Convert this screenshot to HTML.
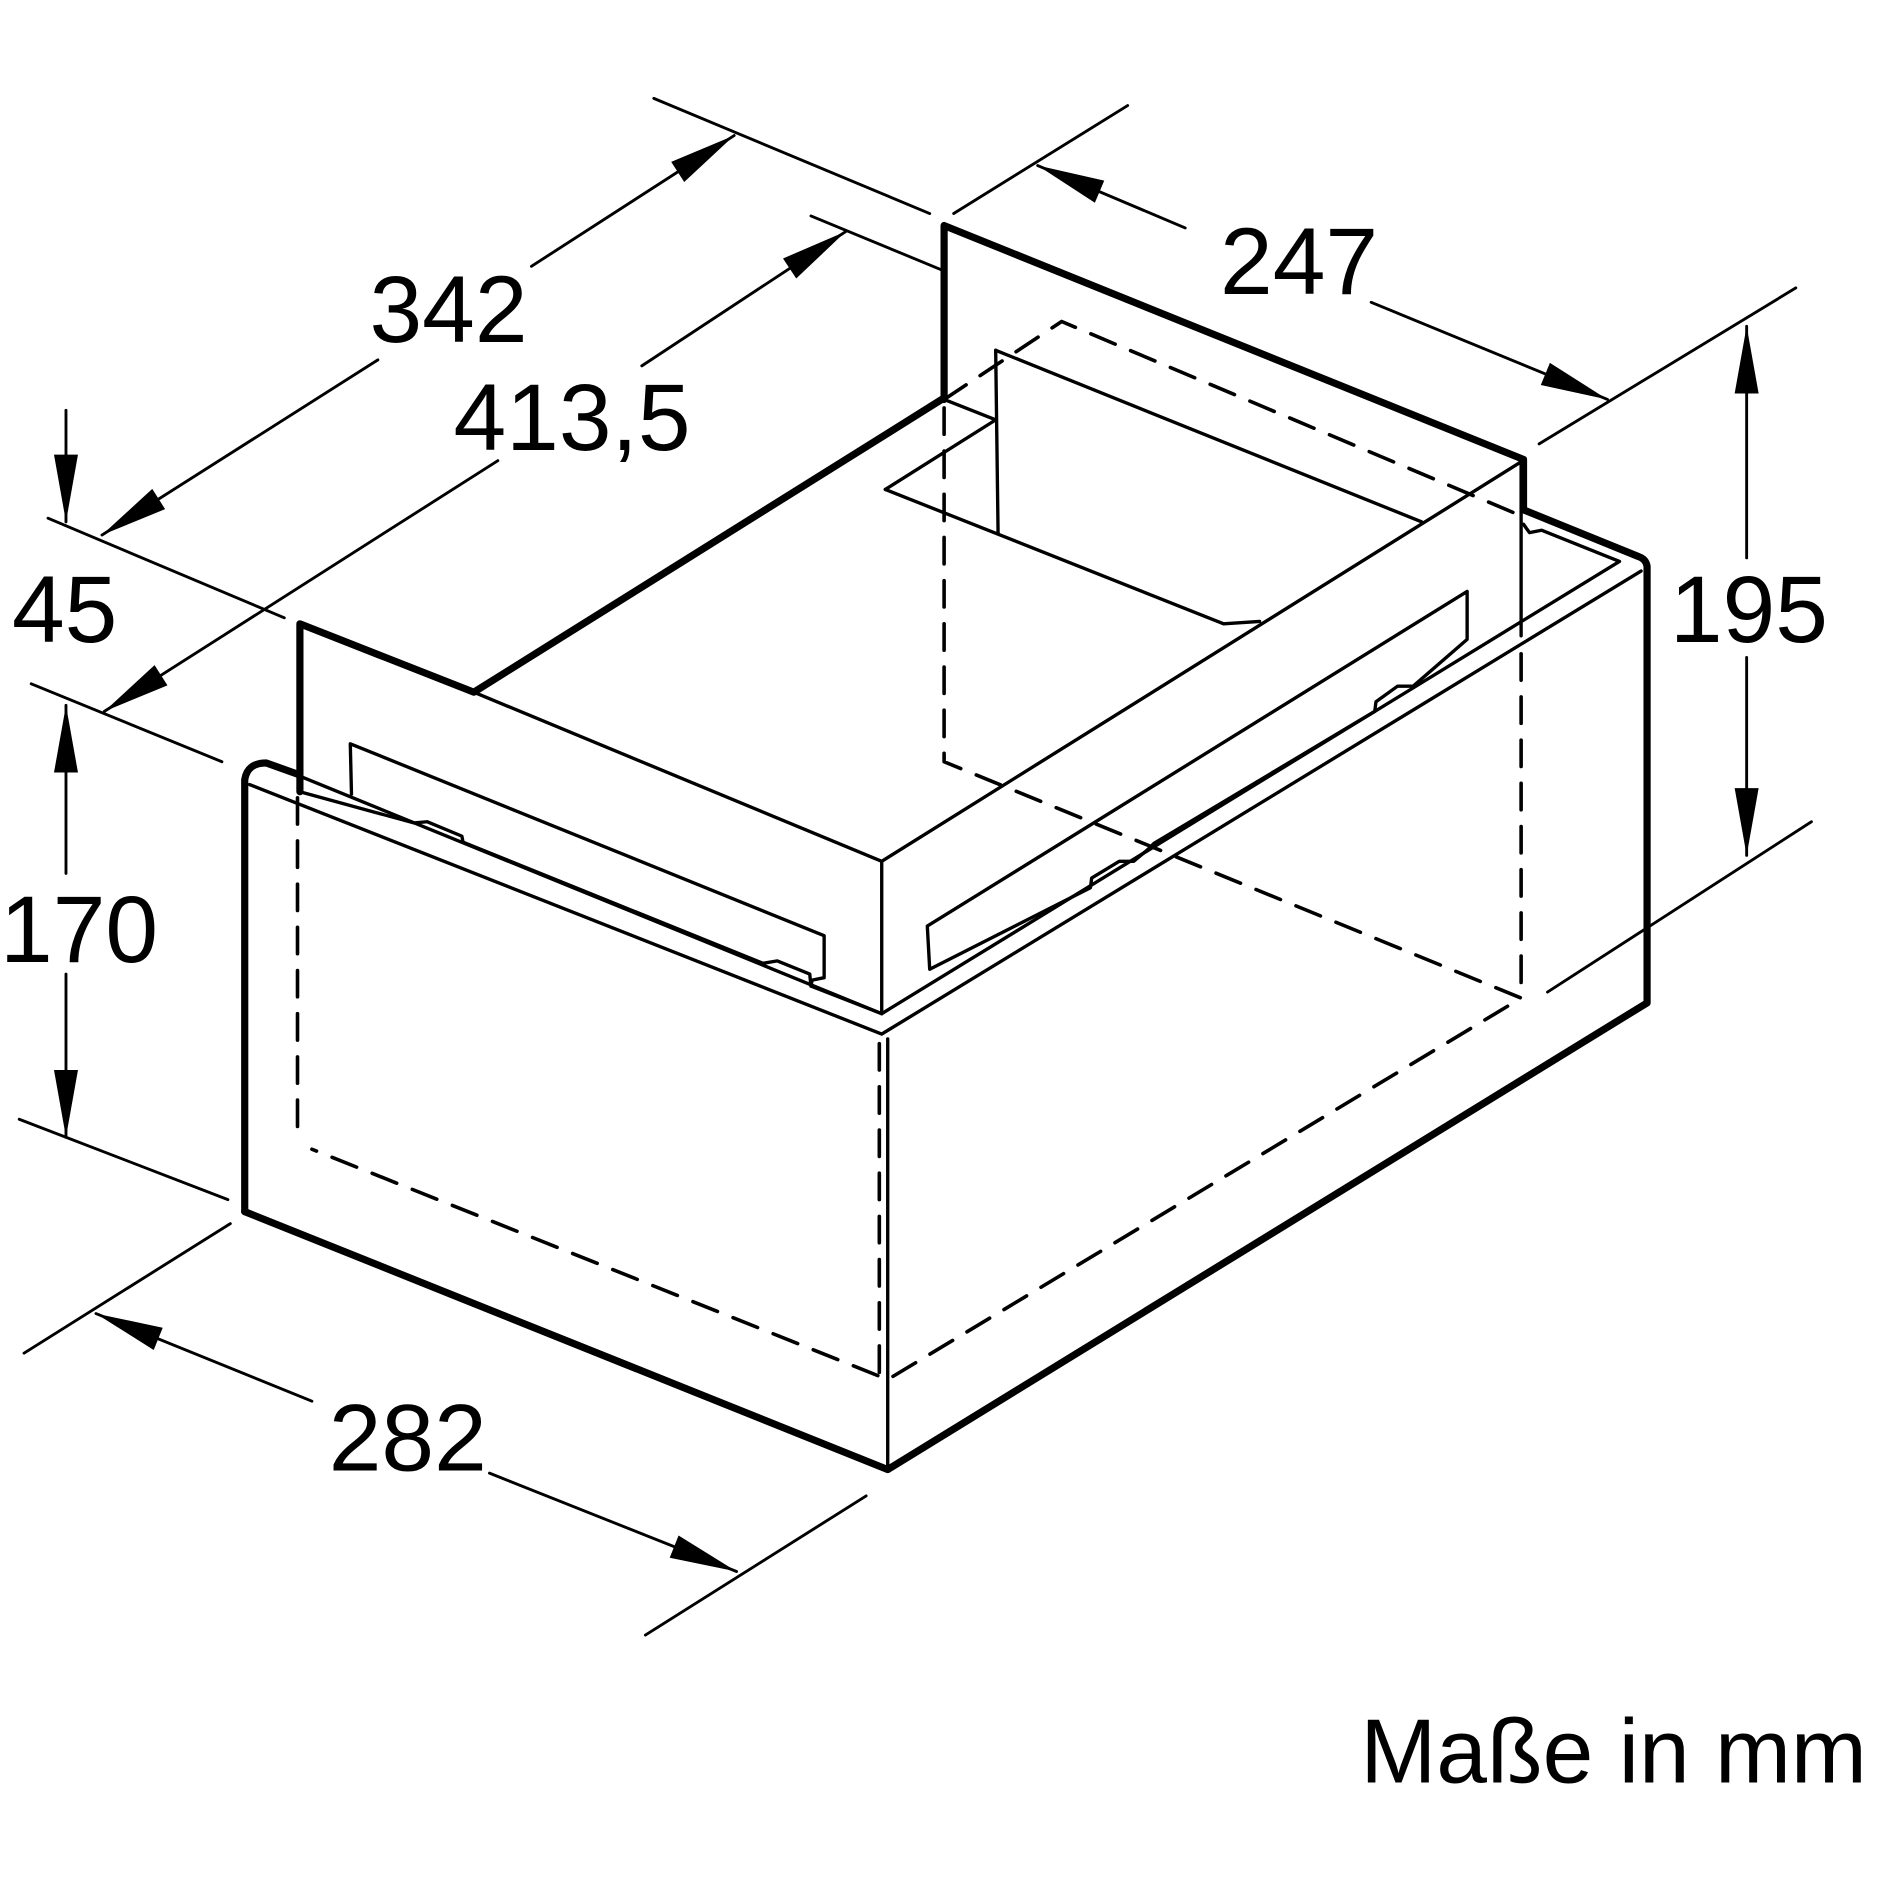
<!DOCTYPE html>
<html><head><style>html,body{margin:0;padding:0;background:#fff}svg{display:block}</style></head>
<body>
<svg width="1881" height="1881" viewBox="0 0 1568 1568" xmlns="http://www.w3.org/2000/svg">
<defs>
<marker id="a" markerUnits="userSpaceOnUse" markerWidth="60" markerHeight="30" refX="0" refY="0" viewBox="-58 -12 60 24" orient="auto"><path d="M0,0 L-56,-10 L-56,10 z" fill="#000"/></marker>
</defs>
<g fill="none" stroke="#000" stroke-linecap="round" stroke-linejoin="round">
<g stroke-width="6">
<path d="M204,1010 L204,650 Q206,636 222,636 L250,646"/>
<path d="M204,1010 L740,1225 L1373,836 L1373,472 Q1372,466 1366,464 L1270,425"/>
<path d="M250,660 L250,520 L395,577 L785,333"/>
<path d="M787,333 L787,188 L1270,383 L1270,425"/>
</g>
<g stroke-width="2.8">
<path d="M208,654 L735,862 L1368,476"/>
<path d="M250,647 L735,845 L1350,468 L1285,442 L1275,444 Q1272,440 1270,437"/>
<path d="M740,866 L740,1225"/>
<path d="M735,718 L735,845"/>
<path d="M395,577 L735,718 L1268,385"/>
<path d="M787,333 L830,350"/>
<path d="M830,292 L832,445"/>
<path d="M830,292 L1185,435"/>
<path d="M738,408 L830,350"/>
<path d="M738,408 L1020,520 L1050,518"/>
<path d="M1268,385 L1268,530"/>
<path d="M293,662 L292,620 L687,780 L687,815 L677,817 L676,822"/>
<path d="M250,660 L345,686 L356,685 L385,697 L386,702 L636,803 L648,801 L675,812 L676,822 L735,845"/>
<path d="M773,772 L1223,493 L1223,533 L1178,572 L1165,572 L1147,585 L1146,593 L962,703 L957,708 L945,718 L933,718 L910,732 L909,740 L775,808 Z"/>
</g>
<g stroke-width="3" stroke-dasharray="22,14">
<path d="M787,333 L885,268 L1268,430"/>
<path d="M787,340 L787,635 L1268,832 L740,1150 L260,958"/>
<path d="M248,665 L248,948"/>
<path d="M1268,545 L1268,832"/>
<path d="M733,870 L733,1150"/>
</g>
<g stroke-width="2.4">
<path d="M40,432 L237,515"/><path d="M545,82 L775,178"/>
<path d="M315,300 L85,446" marker-end="url(#a)"/><path d="M443,222 L612,113" marker-end="url(#a)"/>
<path d="M26,570 L185,635"/><path d="M676,180 L785,225"/>
<path d="M415,384 L87,593" marker-end="url(#a)"/><path d="M535,305 L705,193" marker-end="url(#a)"/>
<path d="M795,178 L940,88"/><path d="M1283,370 L1497,240"/>
<path d="M988,190 L865,138" marker-end="url(#a)"/><path d="M1143,252 L1340,333" marker-end="url(#a)"/>
<path d="M1290,827 L1510,685"/>
<path d="M1456,465 L1456,272" marker-end="url(#a)"/><path d="M1456,548 L1456,713" marker-end="url(#a)"/>
<path d="M55,342 L55,435" marker-end="url(#a)"/><path d="M55,728 L55,588" marker-end="url(#a)"/>
<path d="M55,812 L55,948" marker-end="url(#a)"/>
<path d="M16,933 L190,1000"/>
<path d="M20,1128 L192,1020"/><path d="M538,1363 L722,1247"/>
<path d="M260,1168 L80,1095" marker-end="url(#a)"/><path d="M408,1228 L614,1310" marker-end="url(#a)"/>
</g>
</g>
<g font-family="Liberation Sans, sans-serif" font-size="79" fill="#000">
<text x="308" y="285">342</text>
<text x="378" y="375">413,5</text>
<text x="1017" y="245">247</text>
<text x="1392" y="535">195</text>
<text x="10" y="535">45</text>
<text x="0" y="802">170</text>
<text x="274" y="1226">282</text>
<text x="1134" y="1486" font-size="76">Maße in mm</text>
</g>
</svg>
</body></html>
